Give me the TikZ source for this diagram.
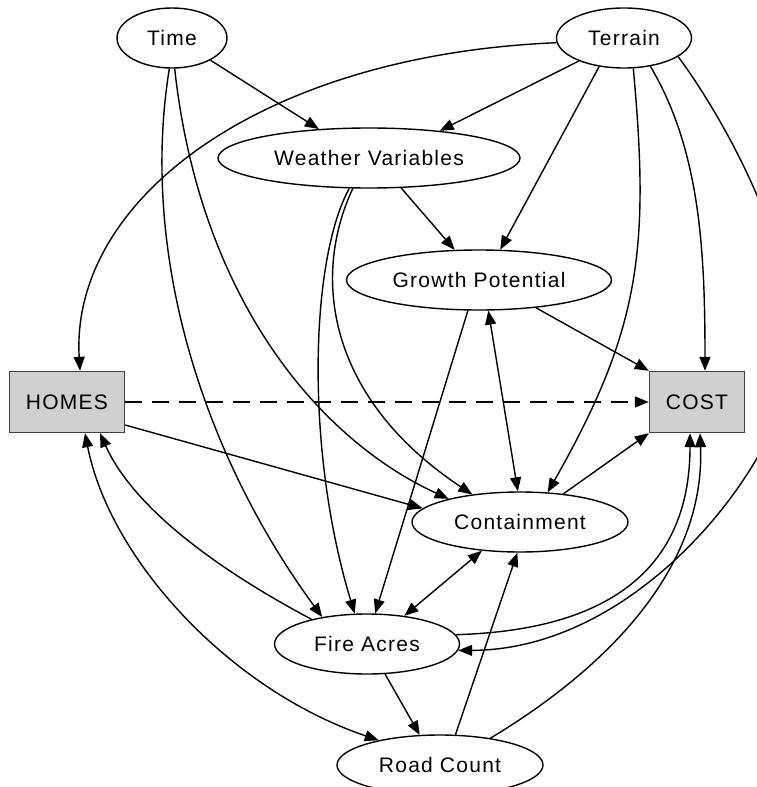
\documentclass[tikz,border=0pt]{standalone}
\usepackage{fontspec}
\setmainfont{Liberation Sans}[LetterSpace=6]
\usetikzlibrary{arrows.meta,shapes.geometric}
\definecolor{NetGray}{HTML}{D0D0D0}
\definecolor{NetEdge}{HTML}{404040}
\newcommand{\netfont}{\fontsize{21}{25}\selectfont}
\tikzset{
  netvar/.style={
    ellipse,
    draw=black,
    line width=1.4pt,
    inner sep=0pt,
    minimum height=60pt,
    font=\netfont
  },
  netbox/.style={
    rectangle,
    draw=NetEdge,
    fill=NetGray,
    line width=1.4pt,
    inner sep=0pt,
    minimum height=61pt,
    font=\netfont
  },
  netlink/.style={-{Triangle[length=14pt,width=11pt]},line width=1.4pt},
  netboth/.style={{Triangle[length=14pt,width=11pt]}-{Triangle[length=14pt,width=11pt]},line width=1.4pt}
}

\begin{document}
\begin{tikzpicture}[x=1pt,y=-1pt]
        \useasboundingbox (0,0) rectangle (757,787);
        \clip (0,0) rectangle (757,787);
        \node[netvar,minimum width=110pt] (time) at (172,38) {Time};
        \node[netvar,minimum width=135pt] (terrain) at (624,38) {Terrain};
        \node[netvar,minimum width=302pt] (weather) at (369,158) {Weather Variables};
        \node[netvar,minimum width=265pt] (growth) at (479,280) {Growth Potential};
        \node[netbox,minimum width=115pt] (homes) at (67,402) {HOMES};
        \node[netbox,minimum width=95pt] (cost) at (697,402) {COST};
        \node[netvar,minimum width=216pt] (contain) at (520,522) {Containment};
        \node[netvar,minimum width=185pt] (fire) at (367,644) {Fire Acres};
        \node[netvar,minimum width=206pt] (road) at (440,765) {Road Count};
        \draw[netlink] (time.-30) -- (weather.150);
        \draw[netlink] (time.265) .. controls (140,250) and (200,450) .. (fire.149);
        \draw[netlink] (time.275) .. controls (200,300) and (320,440) .. (contain.162);
        \draw[netlink] (terrain.207) -- (weather.21);
        \draw[netlink] (terrain.184) .. controls (260,55) and (70,200) .. ([xshift=13pt]homes.north);
        \draw[netlink] (terrain.229) -- (growth.55);
        \draw[netlink] (terrain.287) .. controls (650,250) and (640,330) .. (contain.47);
        \draw[netlink] (terrain.313) .. controls (700,150) and (705,250) .. ([xshift=8pt]cost.north);
        \draw[netlink] (terrain.-19) .. controls (725,120) and (790,240) .. (795,340) .. controls (800,440) and (650,650) .. (fire.-4);
        \draw[netlink] (weather.-43) -- (growth.129);
        \draw[netlink] (weather.237) .. controls (310,260) and (305,450) .. (fire.112);
        \draw[netlink] (weather.242) .. controls (310,280) and (330,400) .. (contain.150);
        \draw[netlink] (growth.-26) -- (cost.north west);
        \draw[netlink] (growth.250) -- (fire.75);
        \draw[netboth] (growth.287) -- (contain.94);
        \draw[netlink,dash pattern=on 17pt off 10pt] (homes) -- (cost);
        \draw[netlink] ([yshift=-23pt]homes.east) -- (contain.172);
        \draw[netboth] ([xshift=18pt]homes.south) .. controls (110,560) and (230,690) .. (road.158);
        \draw[netlink] (contain.33) -- (cost.south west);
        \draw[netboth] (contain.217) -- (fire.37);
        \draw[netlink] (fire.156) .. controls (200,560) and (130,500) .. ([xshift=33pt]homes.south);
        \draw[netlink] (fire.6) .. controls (620,630) and (690,560) .. ([xshift=-7pt]cost.south);
        \draw[netlink] (fire.301) -- (road.124);
        \draw[netlink] (road.63) -- (contain.265);
        \draw[netlink] (road.28) .. controls (620,660) and (705,560) .. ([xshift=3pt]cost.south);
      \end{tikzpicture}
\end{document}
